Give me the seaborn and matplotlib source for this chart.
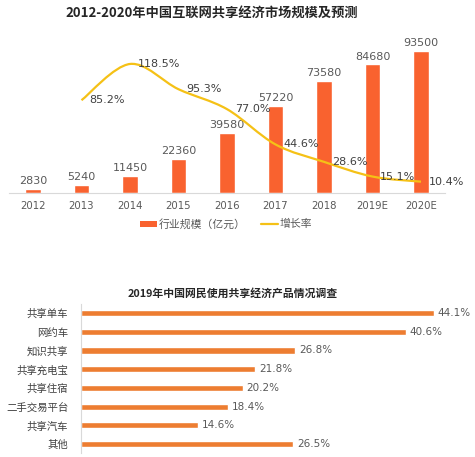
import numpy as np
import pandas as pd
import matplotlib
matplotlib.use("Agg")
import matplotlib.pyplot as plt
import seaborn as sns
from matplotlib.path import Path
from matplotlib.patches import PathPatch, Patch
from matplotlib.lines import Line2D

# --- data ---
years = ["2012", "2013", "2014", "2015", "2016", "2017", "2018", "2019E", "2020E"]
market_size = [2830, 5240, 11450, 22360, 39580, 57220, 73580, 84680, 93500]
growth_years = ["2013", "2014", "2015", "2016", "2017", "2018", "2019E", "2020E"]
growth_rate = [85.2, 118.5, 95.3, 77.0, 44.6, 28.6, 15.1, 10.4]

products = ["共享单车", "网约车", "知识共享", "共享充电宝", "共享住宿", "二手交易平台", "共享汽车", "其他"]
usage_pct = [44.1, 40.6, 26.8, 21.8, 20.2, 18.4, 14.6, 26.5]

sns.set_theme(style="white")
plt.rcParams["font.family"] = ["DejaVu Sans", "Noto Sans CJK SC"]
CJK = ["Noto Sans CJK SC", "DejaVu Sans"]

BAR_RED = "#F9622F"
LINE_YEL = "#F5C116"
BAR_ORG = "#ED7D31"
GRAY = "#595959"

fig = plt.figure(figsize=(4.75, 4.57), dpi=100)

# ---------------- top chart ----------------
ax = fig.add_axes([0.0184, 0.5777, 0.919, 0.3326])
df_top = pd.DataFrame({"year": years, "size": market_size})
sns.barplot(data=df_top, x="year", y="size", color=BAR_RED, width=0.32,
            saturation=1, ax=ax)
ax.set_ylim(0, 100000)
ax.set_xlim(-0.5, 8.5)
for i, v in enumerate(market_size):
    ax.annotate(str(v), (i, v), xytext=(0, 2), textcoords="offset points",
                ha="center", va="bottom", fontsize=8, color=GRAY)
ax.set_xlabel("")
ax.set_ylabel("")
ax.set_yticks([])
ax.tick_params(axis="x", labelsize=7.3, colors=GRAY, length=0, pad=6)
for s in ["top", "left", "right"]:
    ax.spines[s].set_visible(False)
ax.spines["bottom"].set_color("#D9D9D9")
ax.spines["bottom"].set_linewidth(0.8)

ax2 = ax.twinx()
ax2.set_ylim(0, 139.6)
ax2.set_yticks([])
for s in ["top", "left", "right", "bottom"]:
    ax2.spines[s].set_visible(False)

# smooth growth line (Catmull-Rom as cubic bezier)
gx = np.array([years.index(y) for y in growth_years], dtype=float)
gy = np.array(growth_rate, dtype=float)
pts = np.column_stack([gx, gy])
verts = [tuple(pts[0])]
codes = [Path.MOVETO]
n = len(pts)
for i in range(n - 1):
    p0 = pts[max(i - 1, 0)]
    p1 = pts[i]
    p2 = pts[i + 1]
    p3 = pts[min(i + 2, n - 1)]
    c1 = p1 + (p2 - p0) / 6
    c2 = p2 - (p3 - p1) / 6
    verts += [tuple(c1), tuple(c2), tuple(p2)]
    codes += [Path.CURVE4] * 3
ax2.add_patch(PathPatch(Path(verts, codes), fill=False, edgecolor=LINE_YEL, lw=1.6))
for x, y in zip(gx, gy):
    ax2.annotate(f"{y:.1f}%", (x, y), xytext=(5.5, 0), textcoords="offset points",
                 ha="left", va="center", fontsize=8, color="#404040")

fig.text(0.445, 0.973, "2012-2020年中国互联网共享经济市场规模及预测",
         ha="center", va="center", fontsize=9.5, fontweight="bold",
         family=CJK, color="#262626")

handles = [Patch(facecolor=BAR_RED, edgecolor="none"),
           Line2D([0], [0], color=LINE_YEL, lw=1.6)]
leg = fig.legend(handles, ["行业规模（亿元）", "增长率"], ncol=2, loc="center",
                 bbox_to_anchor=(0.476, 1 - 224 / 457), frameon=False,
                 prop={"family": CJK, "size": 7.8}, handlelength=1.6,
                 handleheight=0.5, handletextpad=0.15, columnspacing=1.4)
for t in leg.get_texts():
    t.set_color(GRAY)

# ---------------- bottom chart ----------------
bx = fig.add_axes([0.1705, 0.0079, 0.808, 0.3276])
df_bot = pd.DataFrame({"product": products, "pct": usage_pct})
sns.barplot(data=df_bot, y="product", x="pct", color=BAR_ORG, width=0.33,
            saturation=1, orient="h", ax=bx)
bx.set_xlim(0, 48)
bx.set_ylim(7.5, -0.5)
for i, v in enumerate(usage_pct):
    bx.annotate(f"{v:.1f}%", (v, i), xytext=(3, 0), textcoords="offset points",
                ha="left", va="center", fontsize=7.5, color=GRAY)
bx.set_xlabel("")
bx.set_ylabel("")
bx.set_xticks([])
bx.tick_params(axis="y", length=0, pad=9, colors="#404040")
for lab in bx.get_yticklabels():
    lab.set_family(CJK)
    lab.set_fontsize(7.5)
for s in ["top", "right", "bottom"]:
    bx.spines[s].set_visible(False)
bx.spines["left"].set_color("#D9D9D9")
bx.spines["left"].set_linewidth(0.8)

fig.text(0.49, 1 - 293 / 457, "2019年中国网民使用共享经济产品情况调查",
         ha="center", va="center", fontsize=7.8, fontweight="bold",
         family=CJK, color="#262626")

fig.savefig("out.png", dpi=100)
